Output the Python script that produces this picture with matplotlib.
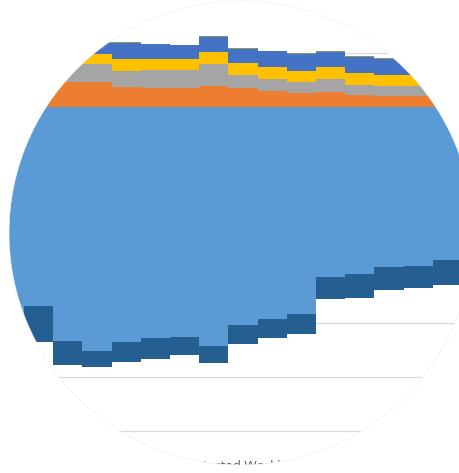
import matplotlib
matplotlib.use('Agg')
import matplotlib.pyplot as plt
from matplotlib.patches import Ellipse, PathPatch
from matplotlib.path import Path
import numpy as np

# one bar per period, values in chart units (gridline step = 10)
periods = list(range(16))

# stacked below zero
light_blue = [42.2, 36.9, 43.3, 45.2, 43.6, 42.8, 42.6, 44.3, 40.4, 39.3, 38.4, 31.5, 30.9, 29.6, 29.4, 28.3]
dark_blue = [4.6, 6.6, 4.4, 2.9, 3.7, 3.8, 3.4, 3.1, 3.5, 3.5, 3.7, 4.1, 4.5, 4.3, 4.1, 4.6]

# stacked above zero
orange = [4.6, 4.6, 4.6, 4.6, 3.7, 3.6, 3.6, 3.9, 3.6, 3.0, 2.5, 2.7, 2.3, 2.1, 2.1, 2.1]
gray = [3.0, 3.0, 3.3, 3.3, 3.0, 3.2, 3.3, 4.1, 2.4, 2.2, 2.1, 2.5, 1.8, 1.8, 1.8, 1.8]
yellow = [1.9, 1.9, 1.9, 1.9, 2.1, 2.0, 1.9, 2.1, 2.1, 2.2, 2.0, 2.2, 2.2, 2.1, 2.1, 2.1]
blue = [2.0, 2.0, 2.0, 2.0, 3.0, 2.8, 2.6, 2.9, 2.7, 2.9, 3.3, 2.8, 3.0, 2.9, 2.9, 2.9]
green = [0.15] * 16

gridlines = [10, 0, -10, -20, -30, -40, -50, -60]
axis_title = 'Projected Workload'

W, H = 459, 473
fig = plt.figure(figsize=(W / 100, H / 100), dpi=100, facecolor='white')
ax = fig.add_axes([0, 0, 1, 1])
ax.set_xlim(-0.322, 15.397)
ax.set_ylim(-(H - 107) / 5.4, 107 / 5.4)
ax.axis('off')

# circular window the chart is seen through (pixel coords, origin bottom-left)
cx, cy, r = 241, H - 233, 232

for g in gridlines:
    ax.axhline(g, color='#d9d9d9', linewidth=0.9, zorder=0)

x = np.array(periods)
# negative side
lb = np.array(light_blue)
db = np.array(dark_blue)
ax.bar(x, -lb, width=1.0, color='#5b9bd5', linewidth=0, zorder=2)
ax.bar(x, -db, bottom=-lb, width=1.0, color='#255e91', linewidth=0, zorder=2)

# positive side
bottom = np.zeros(len(x))
for vals, col in [(orange, '#ed7d31'), (gray, '#a5a5a5'), (yellow, '#ffc000'),
                  (blue, '#4472c4'), (green, '#8a9a5b')]:
    ax.bar(x, vals, bottom=bottom, width=1.0, color=col, linewidth=0, zorder=2)
    bottom = bottom + np.array(vals)

# axis title, only its top shows inside the circle
fig.text(243 / W, (H - 470) / H, axis_title, ha='center', va='baseline',
         fontsize=9.5, color='#595959', family='Open Sans')

# white mask outside the circle
t = np.linspace(0, 2 * np.pi, 400)
circ = np.column_stack([(cx + r * np.cos(t)) / W, (cy + r * np.sin(t)) / H])
rect = np.array([[-0.1, -0.1], [-0.1, 1.1], [1.1, 1.1], [1.1, -0.1], [-0.1, -0.1]])
verts = np.vstack([rect, circ])
codes = ([Path.MOVETO] + [Path.LINETO] * 3 + [Path.CLOSEPOLY] +
         [Path.MOVETO] + [Path.LINETO] * (len(circ) - 1))
mask = PathPatch(Path(verts, codes), facecolor='white', edgecolor='none',
                 transform=fig.transFigure, zorder=10)
fig.patches.append(mask)

# faint outline of the circle
outline = Ellipse((cx / W, cy / H), 2 * r / W, 2 * r / H, transform=fig.transFigure,
                  fill=False, edgecolor='#eef2f6', linewidth=0.5, zorder=11)
fig.patches.append(outline)

fig.savefig('out.png', dpi=100, facecolor='white')
